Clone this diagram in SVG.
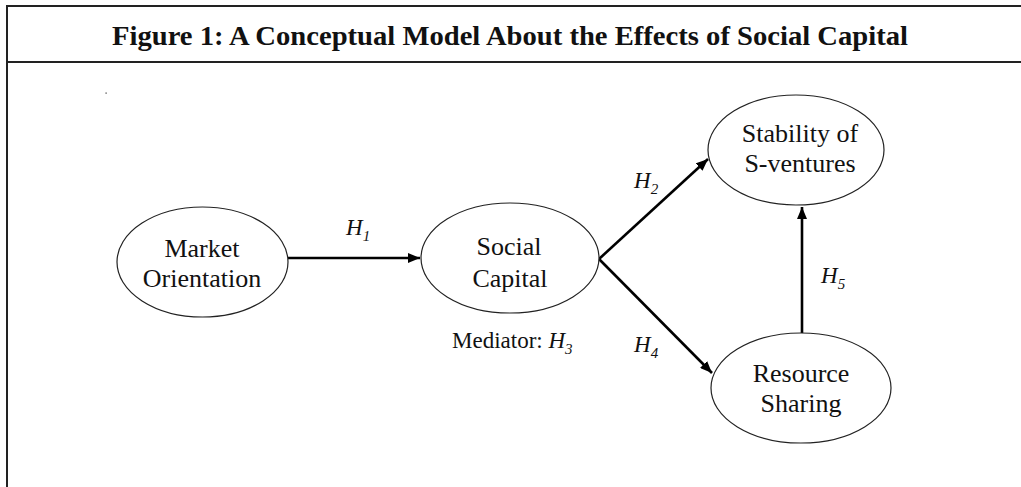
<svg xmlns="http://www.w3.org/2000/svg" width="1021" height="487" viewBox="0 0 1021 487">
<style>
.frame{fill:none;stroke:#222;stroke-width:2}
.node ellipse{fill:#fff;stroke:#222;stroke-width:1.2}
.sub{font-size:15px}
.edge{stroke:#000;stroke-width:2.6;fill:none;marker-end:url(#ah)}
</style>
<defs>
<marker id="ah" viewBox="0 0 12 10" refX="12" refY="5" markerWidth="12" markerHeight="10" markerUnits="userSpaceOnUse" orient="auto">
<path d="M0,0 L12,5 L0,10 Z" fill="#000"/>
</marker>
</defs>
<rect width="1021" height="487" fill="#fff"/>
<g id="frame">
<path class="frame" d="M7,487 V6 H1021"/>
<line class="frame" x1="7" y1="62" x2="1021" y2="62"/>
<text x="112" y="45" font-family="'Liberation Serif', serif" font-size="28" font-weight="bold" fill="#111" textLength="796" lengthAdjust="spacingAndGlyphs">Figure 1: A Conceptual Model About the Effects of Social Capital</text>
<rect x="105.5" y="92.5" width="1.2" height="1.2" fill="#333"/>
</g>
<g id="connectors">
<line class="edge" x1="288" y1="258" x2="420" y2="258"/>
<line class="edge" x1="599" y1="259" x2="708" y2="159"/>
<line class="edge" x1="599" y1="259" x2="712" y2="373"/>
<line class="edge" x1="802" y1="333" x2="802" y2="207"/>
</g>
<g id="market-orientation" class="node" font-family="'Liberation Serif', serif" font-size="26" fill="#111" text-anchor="middle">
<ellipse cx="202.5" cy="262" rx="85.5" ry="55"/>
<text x="202" y="257">Market</text>
<text x="202" y="287">Orientation</text>
</g>
<g id="social-capital" class="node" font-family="'Liberation Serif', serif" font-size="26" fill="#111" text-anchor="middle">
<ellipse cx="510" cy="258" rx="89" ry="55"/>
<text x="509" y="255">Social</text>
<text x="510" y="287">Capital</text>
</g>
<g id="stability" class="node" font-family="'Liberation Serif', serif" font-size="26" fill="#111" text-anchor="middle">
<ellipse cx="796" cy="150" rx="88" ry="55"/>
<text x="800" y="142">Stability of</text>
<text x="800" y="172">S-ventures</text>
</g>
<g id="resource-sharing" class="node" font-family="'Liberation Serif', serif" font-size="26" fill="#111" text-anchor="middle">
<ellipse cx="801" cy="388" rx="90" ry="55"/>
<text x="801" y="382">Resource</text>
<text x="801" y="412">Sharing</text>
</g>
<g id="labels" font-family="'Liberation Serif', serif" font-size="23" fill="#111">
<text x="346" y="235" font-style="italic">H<tspan class="sub" dy="6">1</tspan></text>
<text x="634" y="188" font-style="italic">H<tspan class="sub" dy="6">2</tspan></text>
<text x="452" y="348">Mediator: <tspan font-style="italic">H</tspan><tspan class="sub" font-style="italic" dy="6">3</tspan></text>
<text x="634" y="352" font-style="italic">H<tspan class="sub" dy="6">4</tspan></text>
<text x="821" y="283" font-style="italic">H<tspan class="sub" dy="6">5</tspan></text>
</g>
</svg>
